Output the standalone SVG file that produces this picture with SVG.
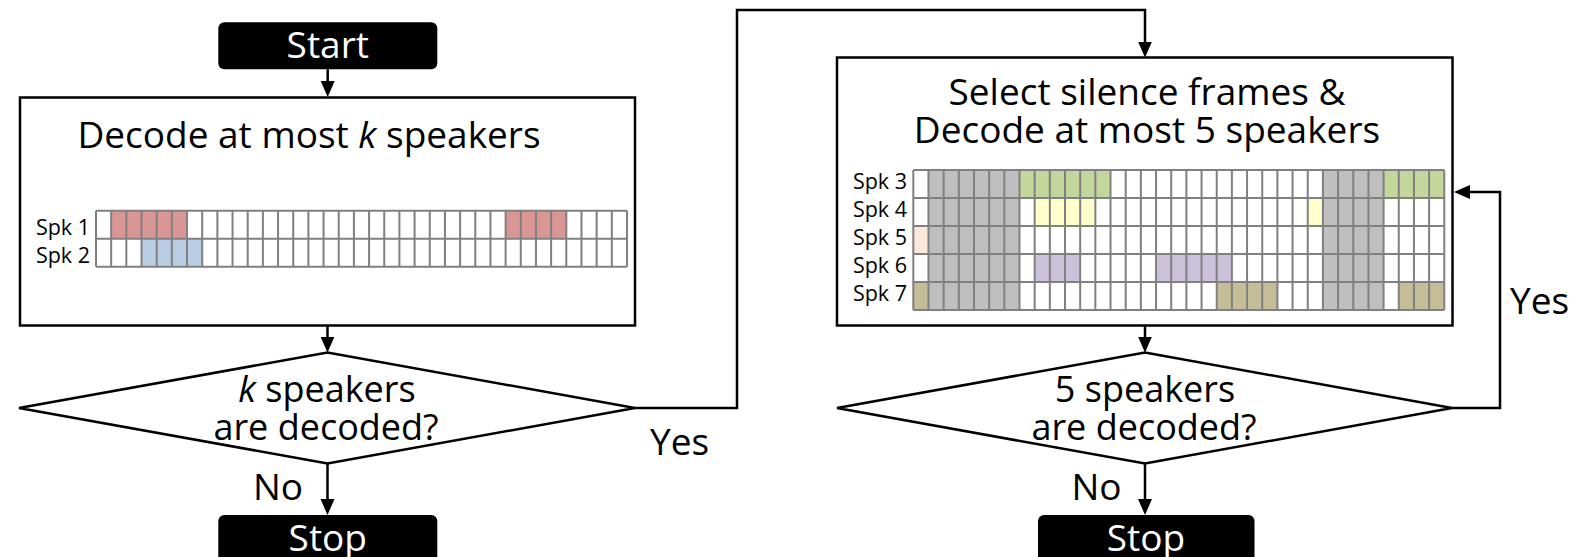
<svg xmlns="http://www.w3.org/2000/svg" width="1585" height="557" viewBox="0 0 1585 557">
<style>
text{font-family:"Open Sans","Noto Sans","Liberation Sans",sans-serif;fill:#000}
.big{font-size:37px}
.mid{font-size:36px}
.lbl{font-size:21.5px;text-anchor:end}
.term{fill:#000}
.termt{fill:#fff;font-size:37px;text-anchor:middle}
.box{fill:#fff;stroke:#000;stroke-width:2.5}
.conn{fill:none;stroke:#000;stroke-width:2.5}
.grid{fill:none;stroke:#808080;stroke-width:2}
.w{fill:#fff}
.gy{fill:#BFBFBF}.rd{fill:#D99694}.bl{fill:#B9CDE5}.gr{fill:#C3D69B}.yl{fill:#FFFFCC}.pc{fill:#FDE9D9}.pu{fill:#CCC1DA}.ol{fill:#C4BD97}
</style>
<defs>
<marker id="ah" markerUnits="userSpaceOnUse" markerWidth="16" markerHeight="16" viewBox="0 0 16 16" refX="2" refY="8" orient="auto">
<path d="M0,1 L16,8 L0,15 Z" fill="#000"/>
</marker>
</defs>
<rect width="1585" height="557" fill="#fff"/>

<g id="start">
<rect class="term" x="218.3" y="22.3" width="219" height="47" rx="6"/>
<text class="termt" x="327.8" y="58.3">Start</text>
</g>

<g id="decode-k">
<rect class="box" x="20" y="97.5" width="615" height="228"/>
<text class="big" x="309" y="148.3" text-anchor="middle">Decode at most <tspan font-style="italic">k</tspan> speakers</text>
<text class="lbl" x="90" y="235">Spk 1</text>
<text class="lbl" x="90" y="262.5">Spk 2</text>
<g transform="translate(96,210.7) scale(15.171,28)">
<rect class="w" x="0" y="0" width="35" height="2"/>
<rect class="rd" x="1" y="0" width="5" height="1"/>
<rect class="rd" x="27" y="0" width="4" height="1"/>
<rect class="bl" x="3" y="1" width="4" height="1"/>
<path class="grid" vector-effect="non-scaling-stroke" d="M0 0H35M0 1H35M0 2H35M0 0V2M1 0V2M2 0V2M3 0V2M4 0V2M5 0V2M6 0V2M7 0V2M8 0V2M9 0V2M10 0V2M11 0V2M12 0V2M13 0V2M14 0V2M15 0V2M16 0V2M17 0V2M18 0V2M19 0V2M20 0V2M21 0V2M22 0V2M23 0V2M24 0V2M25 0V2M26 0V2M27 0V2M28 0V2M29 0V2M30 0V2M31 0V2M32 0V2M33 0V2M34 0V2M35 0V2"/>
</g>
</g>

<g id="check-k">
<polygon class="box" points="19,408 327.5,352.5 635,408 327.5,463.5"/>
<text class="mid" x="327" y="401.7" text-anchor="middle"><tspan font-style="italic">k</tspan> speakers</text>
<text class="mid" x="326" y="440" text-anchor="middle">are decoded?</text>
</g>

<g id="stop-1">
<rect class="term" x="218.3" y="515" width="219" height="60" rx="6"/>
<text class="termt" x="327.8" y="551">Stop</text>
</g>

<g id="decode-5">
<rect class="box" x="837" y="57.5" width="615.5" height="268"/>
<text class="big" x="1147" y="105" text-anchor="middle">Select silence frames &amp;</text>
<text class="big" x="1147" y="143.3" text-anchor="middle">Decode at most 5 speakers</text>
<text class="lbl" x="907" y="189.3">Spk 3</text>
<text class="lbl" x="907" y="217.3">Spk 4</text>
<text class="lbl" x="907" y="245.3">Spk 5</text>
<text class="lbl" x="907" y="273.3">Spk 6</text>
<text class="lbl" x="907" y="301.3">Spk 7</text>
<g transform="translate(913.3,170) scale(15.171,28)">
<rect class="w" x="0" y="0" width="35" height="5"/>
<rect class="gy" x="1" y="0" width="6" height="5"/>
<rect class="gy" x="27" y="0" width="4" height="5"/>
<rect class="gr" x="7" y="0" width="6" height="1"/>
<rect class="gr" x="31" y="0" width="4" height="1"/>
<rect class="yl" x="8" y="1" width="4" height="1"/>
<rect class="yl" x="26" y="1" width="1" height="1"/>
<rect class="pc" x="0" y="2" width="1" height="1"/>
<rect class="pu" x="8" y="3" width="3" height="1"/>
<rect class="pu" x="16" y="3" width="5" height="1"/>
<rect class="ol" x="0" y="4" width="1" height="1"/>
<rect class="ol" x="20" y="4" width="4" height="1"/>
<rect class="ol" x="32" y="4" width="3" height="1"/>
<path class="grid" vector-effect="non-scaling-stroke" d="M0 0H35M0 1H35M0 2H35M0 3H35M0 4H35M0 5H35M0 0V5M1 0V5M2 0V5M3 0V5M4 0V5M5 0V5M6 0V5M7 0V5M8 0V5M9 0V5M10 0V5M11 0V5M12 0V5M13 0V5M14 0V5M15 0V5M16 0V5M17 0V5M18 0V5M19 0V5M20 0V5M21 0V5M22 0V5M23 0V5M24 0V5M25 0V5M26 0V5M27 0V5M28 0V5M29 0V5M30 0V5M31 0V5M32 0V5M33 0V5M34 0V5M35 0V5"/>
</g>
</g>

<g id="check-5">
<polygon class="box" points="837,408 1145,352.5 1452,408 1145,463.5"/>
<text class="mid" x="1145" y="401.7" text-anchor="middle">5 speakers</text>
<text class="mid" x="1144" y="440" text-anchor="middle">are decoded?</text>
</g>

<g id="stop-2">
<rect class="term" x="1038" y="515" width="216.5" height="60" rx="6"/>
<text class="termt" x="1146" y="551">Stop</text>
</g>

<g id="connectors">
<path class="conn" d="M327.7 69.3V83" marker-end="url(#ah)"/>
<path class="conn" d="M327.5 325.5V338.5" marker-end="url(#ah)"/>
<path class="conn" d="M327.5 463.5V501" marker-end="url(#ah)"/>
<path class="conn" d="M635 408H737V10H1145V43.5" marker-end="url(#ah)"/>
<path class="conn" d="M1145 325.5V338.5" marker-end="url(#ah)"/>
<path class="conn" d="M1145 463.5V501" marker-end="url(#ah)"/>
<path class="conn" d="M1452 408H1500V192H1468" marker-end="url(#ah)"/>
<text class="big" x="650" y="455">Yes</text>
<text class="big" x="1510" y="314">Yes</text>
<text class="big" x="253" y="500">No</text>
<text class="big" x="1071.5" y="500">No</text>
</g>
</svg>
